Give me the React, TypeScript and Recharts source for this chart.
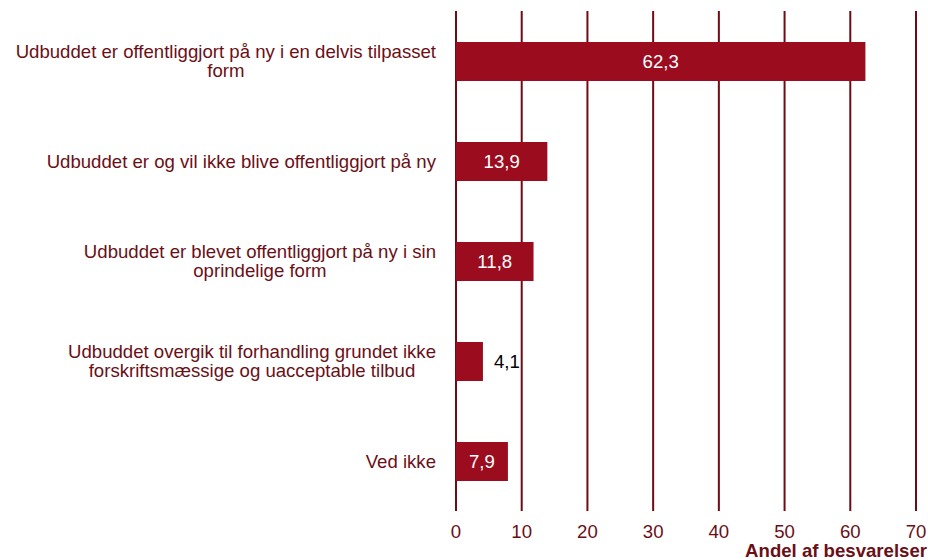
import React from 'react';
import {
  BarChart,
  Bar,
  XAxis,
  YAxis,
  CartesianGrid,
  LabelList,
} from 'recharts';

const categories = [
  'Udbuddet er offentliggjort på ny i en delvis tilpasset form',
  'Udbuddet er og vil ikke blive offentliggjort på ny',
  'Udbuddet er blevet offentliggjort på ny i sin oprindelige form',
  'Udbuddet overgik til forhandling grundet ikke forskriftsmæssige og uacceptable tilbud',
  'Ved ikke',
];
const values = [62.3, 13.9, 11.8, 4.1, 7.9];
const xTicks = [0, 10, 20, 30, 40, 50, 60, 70];
const xTitle = 'Andel af besvarelser';

const FONT = '"Liberation Sans", Arial, sans-serif';
const FS = 18.6;
const BAR = '#9c0c1f';
const GRID = '#6e0b14';
const TEXT = '#6b0f16';

const data = categories.map((name, i) => ({ name, value: values[i] }));

let ctx: CanvasRenderingContext2D | null = null;
function measure(s: string) {
  if (!ctx) ctx = document.createElement('canvas').getContext('2d');
  if (!ctx) return s.length * FS * 0.5;
  ctx.font = `${FS}px ${FONT}`;
  return ctx.measureText(s).width;
}

function wrap(text: string, maxWidth: number): string[] {
  const lines: string[] = [];
  let cur = '';
  for (const w of text.split(' ')) {
    const next = cur ? cur + ' ' + w : w;
    if (measure(next) > maxWidth && cur) {
      lines.push(cur);
      cur = w;
    } else {
      cur = next;
    }
  }
  if (cur) lines.push(cur);
  return lines;
}

function CategoryTick(props: any) {
  const { y, payload } = props;
  const right = 436;
  const lines = wrap(payload.value, 430);
  const lh = 19.5;
  const top = y - ((lines.length - 1) * lh) / 2;
  const blockW = Math.max(...lines.map(measure));
  const cx = right - blockW / 2;
  return (
    <text fill={TEXT} fontSize={FS} fontFamily={FONT} textAnchor="middle">
      {lines.map((l, i) => (
        <tspan key={i} x={cx} y={top + i * lh} dy="0.35em">
          {l}
        </tspan>
      ))}
    </text>
  );
}

function ValueLabel(props: any) {
  const { x, y, width, height, value } = props;
  const inside = value >= 5;
  return (
    <text
      x={inside ? x + width / 2 : x + width + 11}
      y={y + height / 2}
      dy="0.35em"
      fill={inside ? '#ffffff' : '#000000'}
      fontSize={FS}
      fontFamily={FONT}
      textAnchor={inside ? 'middle' : 'start'}
    >
      {String(value).replace('.', ',')}
    </text>
  );
}

export default function App() {
  return (
    <div style={{ position: 'absolute', left: 0, top: 0, width: 928, height: 560, background: '#fff' }}>
      <BarChart
        width={928}
        height={560}
        data={data}
        layout="vertical"
        margin={{ top: 11, right: 12, bottom: 0, left: 0 }}
        barSize={39}
      >
        <CartesianGrid horizontal={false} vertical stroke={GRID} strokeWidth={2} />
        <XAxis
          type="number"
          domain={[0, 70]}
          ticks={xTicks}
          height={49}
          axisLine={false}
          tickLine={false}
          tickSize={6}
          tickMargin={8}
          tick={{ fill: TEXT, fontSize: FS, fontFamily: FONT }}
          label={() => (
            <text
              x={927}
              y={557}
              textAnchor="end"
              fill={TEXT}
              fontSize={FS}
              fontWeight="bold"
              fontFamily={FONT}
            >
              {xTitle}
            </text>
          )}
        />
        <YAxis
          type="category"
          dataKey="name"
          width={456}
          axisLine={false}
          tickLine={false}
          tick={<CategoryTick />}
        />
        <Bar dataKey="value" fill={BAR} isAnimationActive={false}>
          <LabelList dataKey="value" content={<ValueLabel />} />
        </Bar>
      </BarChart>
    </div>
  );
}
